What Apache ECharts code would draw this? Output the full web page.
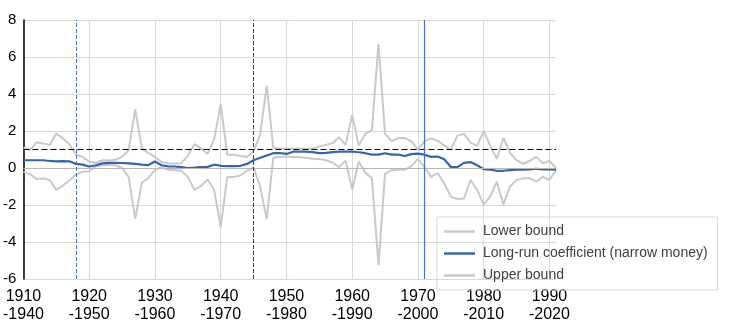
<!DOCTYPE html>
<html>
<head>
<meta charset="utf-8">
<script src="https://cdn.jsdelivr.net/npm/echarts@6/dist/echarts.min.js"></script>
<style>html,body{margin:0;padding:0;background:#fff}#c{width:730px;height:324px}</style>
</head>
<body>
<div id="c"></div>
<script>
const startYears = [1910,1911,1912,1913,1914,1915,1916,1917,1918,1919,
1920,1921,1922,1923,1924,1925,1926,1927,1928,1929,
1930,1931,1932,1933,1934,1935,1936,1937,1938,1939,
1940,1941,1942,1943,1944,1945,1946,1947,1948,1949,
1950,1951,1952,1953,1954,1955,1956,1957,1958,1959,
1960,1961,1962,1963,1964,1965,1966,1967,1968,1969,
1970,1971,1972,1973,1974,1975,1976,1977,1978,1979,
1980,1981,1982,1983,1984,1985,1986,1987,1988,1989,
1990,1991];
const windowLength = 30;

const lowerBound = [-0.21,-0.33,-0.6,-0.57,-0.65,-1.18,-0.95,-0.67,-0.35,-0.2,
-0.18,0.1,0.15,0.18,0.15,0.0,-0.48,-2.76,-0.8,-0.55,
-0.1,0.05,-0.1,-0.12,-0.15,-0.48,-1.18,-0.97,-0.62,-1.18,
-3.2,-0.48,-0.48,-0.4,-0.15,0.02,-1.0,-2.77,0.55,0.6,
0.62,0.6,0.58,0.55,0.5,0.49,0.42,0.3,0.05,0.4,
-1.18,0.35,-0.25,-0.55,-5.25,-0.3,-0.12,-0.1,-0.1,0.1,
0.49,0.05,-0.48,-0.27,-0.83,-1.54,-1.68,-1.65,-0.65,-1.18,
-1.98,-1.54,-0.74,-1.98,-1.0,-0.65,-0.56,-0.56,-0.74,-0.48,
-0.65,-0.12];

const coefficient = [0.42,0.42,0.42,0.42,0.38,0.36,0.37,0.36,0.22,0.18,
0.08,0.15,0.25,0.28,0.28,0.27,0.25,0.22,0.18,0.16,
0.35,0.15,0.09,0.08,0.05,0.0,0.02,0.05,0.06,0.18,
0.12,0.1,0.1,0.12,0.22,0.42,0.55,0.68,0.8,0.81,
0.76,0.88,0.88,0.88,0.86,0.8,0.82,0.86,0.88,0.88,
0.88,0.85,0.8,0.72,0.72,0.8,0.72,0.72,0.65,0.75,
0.78,0.72,0.6,0.62,0.47,0.05,0.05,0.28,0.32,0.15,
-0.06,-0.09,-0.15,-0.15,-0.12,-0.09,-0.09,-0.07,-0.04,-0.07,
-0.08,-0.09];

const upperBound = [1.1,0.97,1.38,1.33,1.25,1.86,1.6,1.27,0.72,0.6,
0.34,0.28,0.42,0.4,0.44,0.62,0.94,3.2,1.05,0.82,
0.6,0.32,0.25,0.25,0.25,0.67,1.29,1.08,0.76,1.55,
3.45,0.72,0.72,0.65,0.6,0.9,1.82,4.44,1.1,1.06,
1.06,1.05,1.05,1.03,1.05,1.17,1.25,1.34,1.66,1.25,
2.87,1.22,1.85,2.05,6.7,1.85,1.45,1.62,1.62,1.44,
1.0,1.45,1.6,1.47,1.22,0.98,1.75,1.84,1.37,1.2,
2.0,1.2,0.5,1.63,0.82,0.42,0.23,0.38,0.6,0.25,
0.38,0.0];

const yTicks = {min: -6, max: 8, interval: 2};
const thresholdY = 1;
const markYears = [1918, 1945, 1971];

const categories = startYears.map(y => y + '\n-' + (y + windowLength));
const catOf = y => categories[startYears.indexOf(y)];

const FONT = 'Liberation Sans, Arial, sans-serif';
const chart = echarts.init(document.getElementById('c'), null, {renderer: 'canvas'});
chart.setOption({
  animation: false,
  grid: {left: 23, right: 174, top: 20, bottom: 40, containLabel: false},
  legend: {
    orient: 'vertical',
    left: 437, top: 217,
    padding: [6, 10, 6, 7],
    borderColor: '#d9d9d9', borderWidth: 1,
    icon: 'rect',
    itemWidth: 31, itemHeight: 2.5, itemGap: 5,
    textStyle: {fontFamily: FONT, fontSize: 14, color: '#404040', lineHeight: 17, padding: [0, 0, 0, 3]},
    data: ['Lower bound', 'Long-run coefficient (narrow money)', 'Upper bound']
  },
  xAxis: {
    type: 'category',
    data: categories,
    boundaryGap: false,
    axisLine: {show: false},
    axisTick: {show: false},
    axisLabel: {interval: 9, fontFamily: FONT, fontSize: 16, color: '#000', lineHeight: 18, margin: 9},
    splitLine: {show: true, interval: 9, lineStyle: {color: '#d9d9d9', width: 1}}
  },
  yAxis: {
    type: 'value',
    min: yTicks.min, max: yTicks.max, interval: yTicks.interval,
    axisLine: {show: true, lineStyle: {color: '#000', width: 1.5}},
    axisTick: {show: false},
    axisLabel: {fontFamily: FONT, fontSize: 15, color: '#000', margin: 7},
    splitLine: {show: true, lineStyle: {color: '#d9d9d9', width: 1}}
  },
  series: [
    {
      name: 'Lower bound', type: 'line', data: lowerBound,
      symbol: 'none', z: 2,
      lineStyle: {color: '#c9c9c9', width: 2}, itemStyle: {color: '#c9c9c9'},
      markLine: {
        silent: true, symbol: ['none', 'none'], label: {show: false},
        data: [
          {yAxis: 0, lineStyle: {color: '#b7b7b7', width: 1.2, type: 'solid'}},
          {yAxis: thresholdY, lineStyle: {color: '#000', width: 1, type: [6, 3]}},
          {xAxis: catOf(markYears[0]), lineStyle: {color: '#4472c4', width: 1, type: [4, 2]}},
          {xAxis: catOf(markYears[1]), lineStyle: {color: '#e00000', width: 1, type: [4, 2]}},
          {xAxis: catOf(markYears[2]), lineStyle: {color: '#4472c4', width: 1.2, type: 'solid'}}
        ]
      }
    },
    {
      name: 'Long-run coefficient (narrow money)', type: 'line', data: coefficient,
      symbol: 'none', z: 4,
      lineStyle: {color: '#3565b0', width: 2.2}, itemStyle: {color: '#3565b0'}
    },
    {
      name: 'Upper bound', type: 'line', data: upperBound,
      symbol: 'none', z: 2,
      lineStyle: {color: '#c9c9c9', width: 2}, itemStyle: {color: '#c9c9c9'}
    }
  ]
});
</script>
</body>
</html>
